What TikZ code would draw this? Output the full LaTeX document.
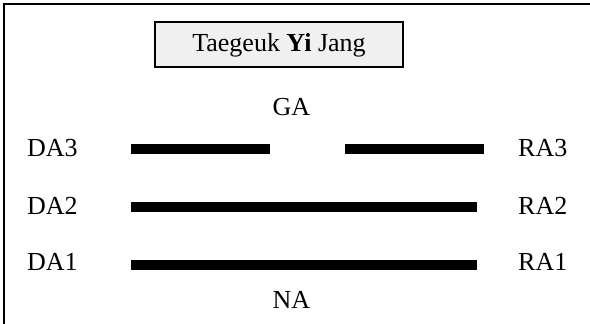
\documentclass[tikz,border=0pt]{standalone}
\usepackage{fontspec}
\setmainfont{Liberation Serif}
\begin{document}
\begin{tikzpicture}[x=1pt,y=-1pt,
  lbl/.style={anchor=base west,inner sep=0pt,font=\fontsize{26}{30}\selectfont},
  clbl/.style={anchor=base,inner sep=0pt,font=\fontsize{26}{30}\selectfont},
  bar/.style={line width=10pt,black},
  titlebox/.style={draw=black,line width=2pt,fill={rgb,255:red,240;green,240;blue,240},minimum width=248pt,minimum height=45pt,inner sep=0pt}]
\useasboundingbox (0,0) rectangle (590,324);
\draw[line width=2pt] (4,330) -- (4,4) -- (600,4);
\node[titlebox] (title) at (279,44.5) {};
\node[clbl] (titletext) at (279,52) {Taegeuk \textbf{Yi} Jang};
\node[clbl] (ga) at (291.5,115) {GA};
\node[clbl] (na) at (291.5,308) {NA};
\node[lbl] (da3) at (27,156) {DA3};
\node[lbl] (da2) at (27,214) {DA2};
\node[lbl] (da1) at (27,270) {DA1};
\node[lbl] (ra3) at (518,156) {RA3};
\node[lbl] (ra2) at (518,214) {RA2};
\node[lbl] (ra1) at (518,270) {RA1};
\coordinate (b3a) at (131,149);
\coordinate (b3b) at (270,149);
\coordinate (b3c) at (345,149);
\coordinate (b3d) at (484,149);
\coordinate (b2a) at (131,207);
\coordinate (b2b) at (477,207);
\coordinate (b1a) at (131,265);
\coordinate (b1b) at (477,265);
\draw[bar] (b3a) -- (b3b);
\draw[bar] (b3c) -- (b3d);
\draw[bar] (b2a) -- (b2b);
\draw[bar] (b1a) -- (b1b);
\end{tikzpicture}
\end{document}
